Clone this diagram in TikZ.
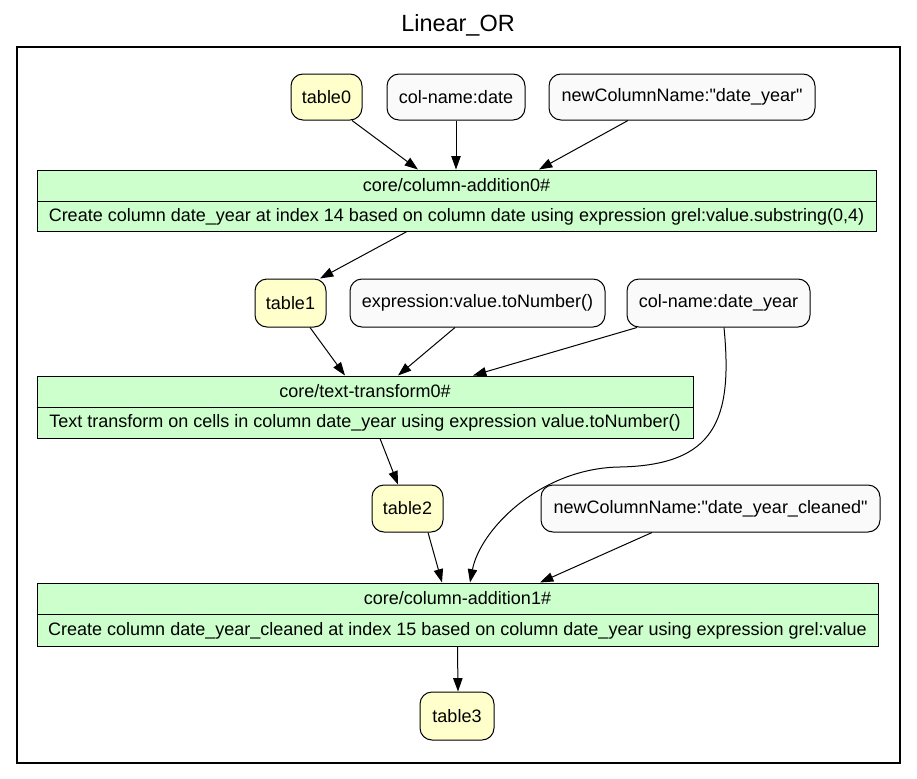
\documentclass[tikz,border=0pt]{standalone}
\usepackage{fontspec}
\setmainfont{Liberation Sans}[Ligatures=TeXOff]
\usetikzlibrary{arrows.meta}
\definecolor{tablefill}{HTML}{FFFFCC}
\definecolor{paramfill}{HTML}{FAFAFA}
\definecolor{opfill}{HTML}{CCFFCC}
\begin{document}
\begin{tikzpicture}[x=0.75pt,y=-0.75pt,
  base/.style={draw=black,line width=0.75pt,inner sep=0pt,font=\fontsize{13.5}{15}\selectfont},
  tablenode/.style={base,fill=tablefill,rounded corners=9pt},
  paramnode/.style={base,fill=paramfill,rounded corners=9pt},
  opbox/.style={base,fill=opfill,rectangle},
  lbl/.style={inner sep=0pt,font=\fontsize{13.5}{15}\selectfont},
  arr/.style={line width=0.75pt,-{Triangle[length=10pt,width=7pt]}}]
\useasboundingbox (0,0) rectangle (917,778);

% title and frame
\node[inner sep=0pt,font=\fontsize{17.6}{20}\selectfont] (title) at (458,25) {Linear\_OR};
\draw[line width=1.6pt] (17,47) rectangle (900,763);

% first operation and its inputs
\node[tablenode,minimum width=53.25pt,minimum height=34.5pt] (t0) at (326.5,97) {table0};
\node[paramnode,minimum width=103.5pt,minimum height=34.5pt] (cd) at (456,97) {col-name:date};
\node[paramnode,minimum width=199.5pt,minimum height=34.5pt] (ncn) at (682,97) {newColumnName:"date\_year"};
\node[opbox,minimum width=629.25pt,minimum height=45.75pt] (ca0) at (456.5,200.5) {};
\draw[line width=0.75pt] (ca0.west |- 0,201) -- (ca0.east |- 0,201);
\node[lbl] (ca0t) at (456.5,185.5) {core/column-addition0\#};
\node[lbl] (ca0d) at (456.5,216.5) {Create column date\_year at index 14 based on column date using expression grel:value.substring(0,4)};

% second operation and its inputs
\node[tablenode,minimum width=53.25pt,minimum height=36pt] (t1) at (290.5,303) {table1};
\node[paramnode,minimum width=191.25pt,minimum height=36pt] (ex) at (477.5,303) {expression:value.toNumber()};
\node[paramnode,minimum width=137.25pt,minimum height=36pt] (cy) at (718.5,303) {col-name:date\_year};
\node[opbox,minimum width=492pt,minimum height=46.5pt] (tt0) at (365,407) {};
\draw[line width=0.75pt] (tt0.west |- 0,407) -- (tt0.east |- 0,407);
\node[lbl] (tt0t) at (365,391.5) {core/text-transform0\#};
\node[lbl] (tt0d) at (365,422.5) {Text transform on cells in column date\_year using expression value.toNumber()};

% third operation and its inputs
\node[tablenode,minimum width=53.25pt,minimum height=35.25pt] (t2) at (407.5,508.5) {table2};
\node[paramnode,minimum width=254.25pt,minimum height=35.25pt] (ncc) at (710.5,508.5) {newColumnName:"date\_year\_cleaned"};
\node[opbox,minimum width=630.75pt,minimum height=47.25pt] (ca1) at (457.5,614.5) {};
\draw[line width=0.75pt] (ca1.west |- 0,614.5) -- (ca1.east |- 0,614.5);
\node[lbl] (ca1t) at (457.5,598.5) {core/column-addition1\#};
\node[lbl] (ca1d) at (457.5,630.5) {Create column date\_year\_cleaned at index 15 based on column date\_year using expression grel:value};
\node[tablenode,minimum width=55.5pt,minimum height=36pt] (t3) at (457,716) {table3};

% connectors
\draw[arr] (t0.south -| 352,0) -- (ca0.north -| 418,0);
\draw[arr] (cd.south) -- (ca0.north -| 456,0);
\draw[arr] (ncn.south -| 628,0) -- (ca0.north -| 539,0);
\draw[arr] (ca0.south -| 407,0) -- (t1.north -| 320,0);
\draw[arr] (t1.south -| 310,0) -- (tt0.north -| 345,0);
\draw[arr] (ex.south -| 455,0) -- (tt0.north -| 398,0);
\draw[arr] (cy.south -| 637,0) -- (tt0.north -| 473,0);
\draw[arr] (cy.south -| 724,0) .. controls (733,420) and (715,465) .. (620,467)
  .. controls (540,468) and (480,530) .. (ca1.north -| 470,0);
\draw[arr] (tt0.south -| 380,0) -- (t2.north -| 398,0);
\draw[arr] (t2.south -| 428,0) -- (ca1.north -| 442,0);
\draw[arr] (ncc.south -| 652,0) -- (ca1.north -| 540,0);
\draw[arr] (ca1.south) -- (t3.north -| 458,0);
\end{tikzpicture}
\end{document}
